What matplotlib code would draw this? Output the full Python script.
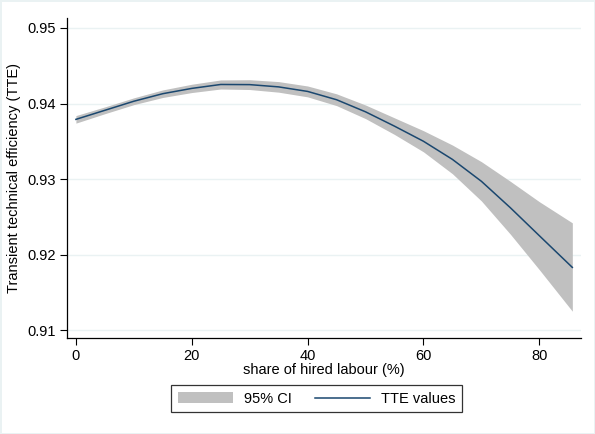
import matplotlib
matplotlib.use("Agg")
import matplotlib.pyplot as plt
from matplotlib.patches import Patch
from matplotlib.lines import Line2D

# share of hired labour (%) and predicted TTE with 95% CI
share = [0, 5, 10, 15, 20, 25, 30, 35, 40, 45, 50, 55, 60, 65, 70, 75, 80, 85.7]
tte = [0.9379, 0.9391, 0.9403, 0.9413, 0.9420, 0.94252, 0.9425, 0.9422, 0.9416,
       0.9405, 0.9389, 0.9370, 0.9350, 0.9326, 0.9297, 0.9262, 0.9225, 0.9183]
ci_upper = [0.9384, 0.93955, 0.94075, 0.9418, 0.94255, 0.94312, 0.94315, 0.9429, 0.94232,
            0.94128, 0.9398, 0.9381, 0.9364, 0.9345, 0.9323, 0.9297, 0.9270, 0.9242]
ci_lower = [0.9374, 0.93865, 0.93985, 0.9408, 0.94145, 0.94192, 0.94185, 0.9415, 0.94088,
            0.93972, 0.9380, 0.9359, 0.9336, 0.9307, 0.9271, 0.9227, 0.9180, 0.9125]

yticks = [0.91, 0.92, 0.93, 0.94, 0.95]
xticks = [0, 20, 40, 60, 80]

plt.rcParams['font.family'] = ['Liberation Sans', 'DejaVu Sans']

band_color = '#c0c0c0'
line_color = '#1a476f'
grid_color = '#eaf2f3'

fig = plt.figure(figsize=(5.95, 4.34), dpi=100)
fig.patch.set_facecolor('white')
fig.patch.set_edgecolor(grid_color)
fig.patch.set_linewidth(2)

ax = fig.add_axes([0.112, 0.221, 0.8645, 0.7375])

# 1. band + fitted line
ax.fill_between(share, ci_lower, ci_upper, color=band_color, linewidth=0, zorder=2)
ax.plot(share, tte, color=line_color, linewidth=1.1, zorder=3)

# 2. axes, ticks, grid
ax.set_xlim(-1.6, 87.2)
ax.set_ylim(0.90894, 0.95132)
ax.set_xticks(xticks)
ax.set_yticks(yticks)
ax.set_yticklabels([f"{v:.2f}" for v in yticks])
ax.grid(axis='y', color=grid_color, linewidth=1, zorder=0)
ax.set_axisbelow(True)
for s in ['top', 'right']:
    ax.spines[s].set_visible(False)
for s in ['left', 'bottom']:
    ax.spines[s].set_linewidth(0.9)
ax.tick_params(direction='out', length=5, width=0.8, labelsize=10.5, pad=3)

ax.set_xlabel("share of hired labour (%)", fontsize=10.5, labelpad=0)
ax.set_ylabel("Transient technical efficiency (TTE)", fontsize=10.5, labelpad=4)

# 3. legend below the plot
handles = [Patch(facecolor=band_color, edgecolor='none', label='95% CI'),
           Line2D([0], [0], color=line_color, linewidth=1.1, label='TTE values')]
leg = fig.legend(handles=handles, loc='center', bbox_to_anchor=(0.532, 0.081),
                 ncol=2, fontsize=10.5, frameon=True, fancybox=False,
                 edgecolor='black', handlelength=3.8, handleheight=0.8,
                 columnspacing=1.6, handletextpad=0.7, borderpad=0.45,
                 borderaxespad=0)
leg.get_frame().set_linewidth(0.9)

fig.savefig("out.png", dpi=100)
